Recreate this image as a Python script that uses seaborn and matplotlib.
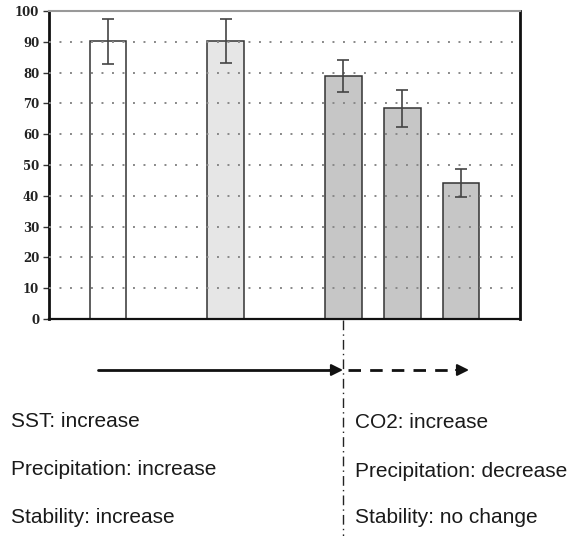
import matplotlib
matplotlib.use("Agg")
import matplotlib.pyplot as plt
from matplotlib.lines import Line2D
import seaborn as sns
import pandas as pd

# Bar positions along the x scale (gaps separate the two forcing regimes)
bar_pos = [0, 2, 4, 5, 6]
means = [90.2, 90.3, 79.0, 68.4, 44.2]
errs = [7.3, 7.2, 5.2, 6.0, 4.6]
bar_colors = ["#ffffff", "#e6e6e6", "#c6c6c6", "#c6c6c6", "#c6c6c6"]
yticks = list(range(0, 101, 10))

left_labels = ["SST: increase", "Precipitation: increase", "Stability: increase"]
right_labels = ["CO2: increase", "Precipitation: decrease", "Stability: no change"]

W, H = 573, 536
DPI = 100
sns.set_style("white")
plt.rcParams["font.family"] = ["Liberation Sans", "DejaVu Sans"]

fig = plt.figure(figsize=(W / DPI, H / DPI), dpi=DPI)
ax = fig.add_axes([49 / W, 1 - 319 / H, (520 - 49) / W, (319 - 11) / H])

df = pd.DataFrame({"pos": bar_pos, "value": means})
sns.barplot(data=df, x="pos", y="value", hue="pos", palette=bar_colors,
            native_scale=True, width=0.62, dodge=False, legend=False,
            errorbar=None, edgecolor="#333333", linewidth=1.1, ax=ax)
ax.errorbar(bar_pos, means, yerr=errs, fmt="none", ecolor="#444444",
            elinewidth=1.2, capsize=4.5, capthick=1.2, zorder=5)

ax.set_xlim(-1, 7)
ax.set_ylim(0, 100)
ax.set_xticks([])
ax.set_yticks(yticks)
ax.set_yticklabels([str(t) for t in yticks], fontfamily="DejaVu Serif",
                   fontweight="bold", fontsize=8.5, color="#222222")
ax.tick_params(axis="y", direction="out", length=4, width=1, color="#333333",
               left=True, pad=3)
ax.set_xlabel("")
ax.set_ylabel("")

# dotted horizontal grid drawn over the bars
for t in yticks[1:-1]:
    ax.axhline(t, color="#888888", lw=1.4, ls=(0, (1, 4.4)), zorder=4)

for side, lw, col in [("left", 2.0, "#111111"), ("bottom", 1.6, "#111111"),
                      ("right", 2.0, "#111111"), ("top", 1.5, "#999999")]:
    ax.spines[side].set_visible(True)
    ax.spines[side].set_linewidth(lw)
    ax.spines[side].set_color(col)


def fx(px):
    return px / W


def fy(py):
    return 1 - py / H


# regime boundary below the third bar
xdiv = 343
fig.add_artist(Line2D([fx(xdiv), fx(xdiv)], [fy(320), fy(536)],
                      transform=fig.transFigure, color="#222222", lw=1.0,
                      ls=(0, (7, 3, 1, 3))))

# forcing arrows
fig.add_artist(Line2D([fx(98), fx(332)], [fy(370), fy(370)],
                      transform=fig.transFigure, color="#111111", lw=2.0))
ax.annotate("", xy=(fx(343), fy(370)), xytext=(fx(330), fy(370)),
            xycoords="figure fraction", textcoords="figure fraction",
            arrowprops=dict(arrowstyle="-|>,head_length=0.7,head_width=0.35",
                            color="#111111", lw=1.5, shrinkA=0, shrinkB=0))
fig.add_artist(Line2D([fx(348), fx(457)], [fy(370), fy(370)],
                      transform=fig.transFigure, color="#111111", lw=2.0,
                      ls=(0, (4.5, 3.3))))
ax.annotate("", xy=(fx(469), fy(370)), xytext=(fx(456), fy(370)),
            xycoords="figure fraction", textcoords="figure fraction",
            arrowprops=dict(arrowstyle="-|>,head_length=0.7,head_width=0.35",
                            color="#111111", lw=1.5, shrinkA=0, shrinkB=0))

for label, by in zip(left_labels, [427, 475, 523]):
    fig.text(fx(11), fy(by), label, fontsize=15, va="baseline", ha="left",
             color="#1a1a1a")
for label, by in zip(right_labels, [428, 477, 523]):
    fig.text(fx(355), fy(by), label, fontsize=15, va="baseline", ha="left",
             color="#1a1a1a")

fig.savefig("out.png", dpi=DPI)
